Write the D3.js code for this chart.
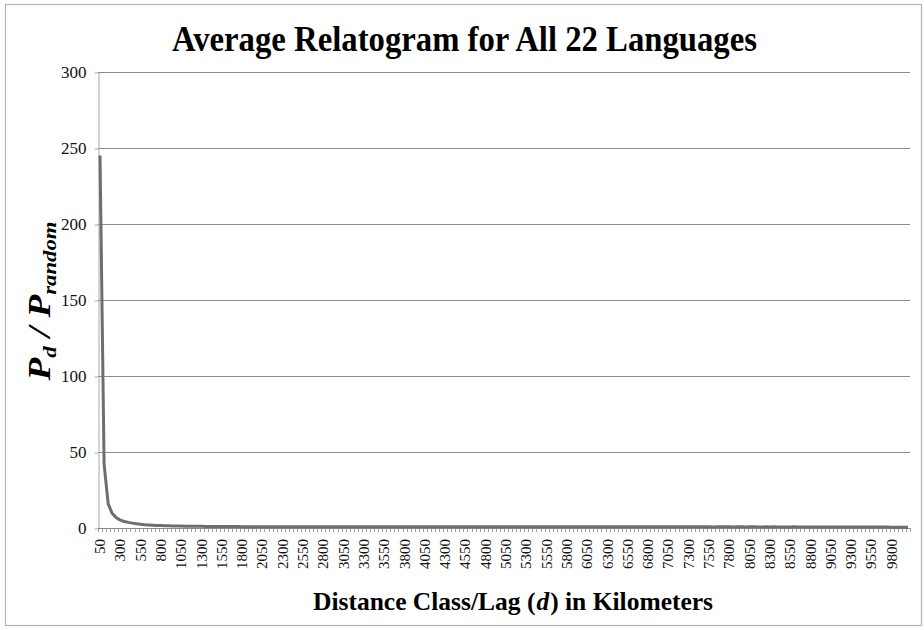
<!DOCTYPE html>
<html>
<head>
<meta charset="utf-8">
<script src="https://cdn.jsdelivr.net/npm/d3@7"></script>
<style>
  html, body { margin: 0; padding: 0; background: #fff; }
  svg { display: block; }
</style>
</head>
<body>
<svg id="chart" width="924" height="630"></svg>
<script>
// Distance classes (km), one every 50 km from 50 to 10000
const distanceClasses = d3.range(50, 10001, 50);

// Average P_d / P_random per distance class
const ratioValues = [
  245, 42, 16, 9.5, 6.8, 5.2, 4.3, 3.7, 3.2, 2.8,
  2.5, 2.2, 2.0, 1.85, 1.7, 1.6, 1.5, 1.42, 1.35, 1.3,
  1.25, 1.2, 1.16, 1.12, 1.1, 1.07, 1.05, 1.02, 1.0, 0.98,
  0.97, 0.95, 0.94, 0.93, 0.92, 0.9, 0.89, 0.88, 0.88, 0.87,
  0.86, 0.87, 0.85, 0.86, 0.84, 0.85, 0.86, 0.84, 0.83, 0.85,
  0.84, 0.83, 0.84, 0.82, 0.83, 0.84, 0.82, 0.81, 0.83, 0.82,
  0.81, 0.82, 0.8, 0.81, 0.83, 0.82, 0.8, 0.81, 0.82, 0.8,
  0.79, 0.81, 0.82, 0.8, 0.79, 0.8, 0.81, 0.8, 0.78, 0.8,
  0.81, 0.79, 0.8, 0.82, 0.8, 0.79, 0.8, 0.81, 0.79, 0.78,
  0.8, 0.79, 0.81, 0.8, 0.78, 0.79, 0.8, 0.79, 0.78, 0.8,
  0.79, 0.78, 0.8, 0.79, 0.77, 0.79, 0.8, 0.78, 0.79, 0.78,
  0.77, 0.79, 0.78, 0.8, 0.78, 0.77, 0.79, 0.78, 0.77, 0.78,
  0.79, 0.77, 0.78, 0.76, 0.78, 0.79, 0.77, 0.78, 0.76, 0.77,
  0.78, 0.77, 0.76, 0.78, 0.77, 0.75, 0.77, 0.78, 0.76, 0.77,
  0.76, 0.75, 0.77, 0.76, 0.78, 0.76, 0.75, 0.76, 0.77, 0.75,
  0.76, 0.74, 0.76, 0.75, 0.77, 0.75, 0.74, 0.76, 0.75, 0.74,
  0.75, 0.76, 0.74, 0.73, 0.75, 0.74, 0.76, 0.74, 0.73, 0.74,
  0.73, 0.75, 0.72, 0.74, 0.73, 0.72, 0.74, 0.72, 0.71, 0.73,
  0.72, 0.7, 0.72, 0.71, 0.69, 0.7, 0.68, 0.69, 0.67, 0.66,
  0.65, 0.64, 0.62, 0.6, 0.58, 0.56, 0.55, 0.53, 0.5, 0.48
];

// Axis ticks
const yTicks = [0, 50, 100, 150, 200, 250, 300];
const xTickLabels = d3.range(50, 10000, 250);

const SERIF = '"Liberation Serif"';
const svg = d3.select("#chart");

// Outer chart border
svg.append("rect")
  .attr("x", 5.5).attr("y", 4.5)
  .attr("width", 916).attr("height", 621)
  .attr("fill", "#fff")
  .attr("stroke", "#b4b4b4").attr("stroke-width", 1.2);

const plot = { left: 98, right: 910, top: 72, bottom: 528 };

const x = d3.scaleBand()
  .domain(distanceClasses)
  .range([plot.left, plot.right])
  .paddingInner(0).paddingOuter(0);

const y = d3.scaleLinear()
  .domain([0, 300])
  .range([plot.bottom, plot.top]);

// Horizontal gridlines
svg.append("g")
  .selectAll("line")
  .data(yTicks.filter(t => t > 0))
  .join("line")
  .attr("x1", plot.left).attr("x2", plot.right)
  .attr("y1", d => Math.round(y(d)) + 0.5).attr("y2", d => Math.round(y(d)) + 0.5)
  .attr("stroke", "#8a8a8a").attr("stroke-width", 1);

// Y axis
const yAxis = svg.append("g")
  .attr("transform", `translate(${plot.left + 0.5},0.5)`)
  .call(d3.axisLeft(y).tickValues(yTicks).tickSize(4).tickSizeOuter(0).tickPadding(8));
yAxis.attr("font-family", null);
yAxis.select(".domain").attr("stroke", "#a8a8a8");
yAxis.selectAll(".tick line").attr("stroke", "#a8a8a8");
yAxis.selectAll(".tick text")
  .style("font-family", SERIF).style("font-size", "17px").attr("fill", "#111");

// X axis: tick marks at category boundaries
const boundaries = distanceClasses.map(d => x(d)).concat([plot.right]);
svg.append("g")
  .selectAll("line")
  .data(boundaries)
  .join("line")
  .attr("x1", d => Math.round(d) + 0.5).attr("x2", d => Math.round(d) + 0.5)
  .attr("y1", plot.bottom).attr("y2", plot.bottom + 4)
  .attr("stroke", "#a0a0a0").attr("stroke-width", 1);

svg.append("line")
  .attr("x1", plot.left).attr("x2", plot.right)
  .attr("y1", plot.bottom + 0.5).attr("y2", plot.bottom + 0.5)
  .attr("stroke", "#8a8a8a").attr("stroke-width", 1);

// X tick labels, rotated
svg.append("g")
  .selectAll("text")
  .data(xTickLabels)
  .join("text")
  .attr("transform", d => `translate(${x(d) + x.bandwidth() / 2 + 5},${plot.bottom + 11}) rotate(-90)`)
  .attr("text-anchor", "end")
  .style("font-family", SERIF).style("font-size", "15px")
  .attr("fill", "#111")
  .text(d => d);

// Data line
const line = d3.line()
  .x((d, i) => x(distanceClasses[i]) + x.bandwidth() / 2)
  .y(d => y(d));

svg.append("path")
  .datum(ratioValues)
  .attr("d", line)
  .attr("fill", "none")
  .attr("stroke", "#6e6e6e")
  .attr("stroke-width", 3)
  .attr("stroke-linejoin", "round");

// Title
svg.append("text")
  .attr("x", 172).attr("y", 51)
  .attr("textLength", 585).attr("lengthAdjust", "spacingAndGlyphs")
  .style("font-family", SERIF).style("font-weight", "bold").style("font-size", "36px")
  .attr("fill", "#000")
  .text("Average Relatogram for All 22 Languages");

// X axis title
const xt = svg.append("text")
  .attr("x", 313).attr("y", 610)
  .style("font-family", SERIF).style("font-weight", "bold").style("font-size", "25.5px")
  .attr("fill", "#000");
xt.append("tspan").text("Distance Class/Lag (");
xt.append("tspan").style("font-style", "italic").attr("dx", 1).text("d");
xt.append("tspan").attr("dx", 1).text(") in Kilometers");

// Y axis title: P_d / P_random
const yt = svg.append("text")
  .attr("transform", "translate(50,301) rotate(-90) scale(1.2,1)")
  .attr("text-anchor", "middle")
  .style("font-family", SERIF).style("font-weight", "bold").style("font-style", "italic")
  .style("font-size", "31px").attr("fill", "#000");
yt.append("tspan").text("P");
yt.append("tspan").style("font-size", "19px").attr("dy", 6).text("d");
yt.append("tspan").attr("dy", -6).text(" / P");
yt.append("tspan").style("font-size", "19px").attr("dy", 6).text("random");
</script>
</body>
</html>
